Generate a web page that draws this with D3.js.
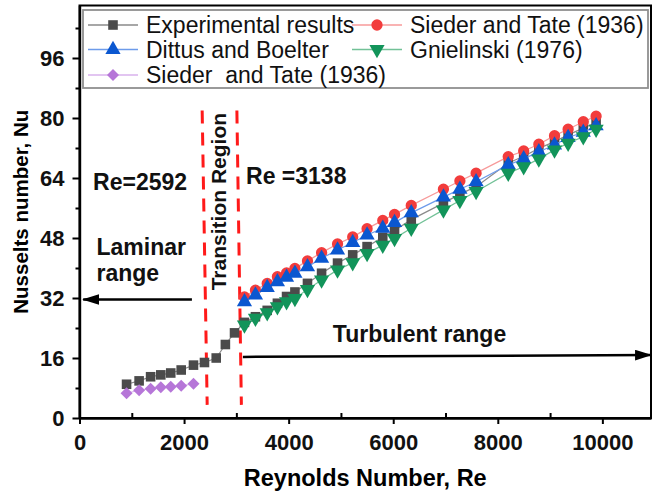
<!DOCTYPE html>
<html>
<head>
<meta charset="utf-8">
<script src="https://cdn.jsdelivr.net/npm/d3@7"></script>
<style>
  body { margin: 0; background: #fff; }
  svg { display: block; }
  text { font-family: "Liberation Sans", Arial, Helvetica, sans-serif; }
</style>
</head>
<body>
<svg id="chart" width="654" height="494"></svg>
<script>
// Reynolds numbers of the laminar / transition runs
const reLow = [900, 1140, 1360, 1555, 1745, 1945, 2180, 2390, 2615, 2790, 2965];
// Reynolds numbers of the turbulent runs
const reTurb = [3155, 3365, 3590, 3785, 3960, 4120, 4360, 4630, 4935, 5225, 5500, 5800,
                6025, 6345, 6960, 7275, 7585, 8200, 8495, 8785, 9085, 9345, 9635, 9880];

// Measured Nusselt numbers (laminar + transition, then turbulent)
const nuExpLow = [9.0, 9.9, 11.0, 11.5, 12.0, 12.8, 14.1, 14.8, 16.0, 19.6, 22.7];
const nuExpTurb = [25.5, 27.0, 28.7, 30.6, 32.4, 33.6, 35.9, 38.6, 41.3, 43.5, 45.7, 48.2,
                   50.0, 52.9, 57.3, 59.7, 61.7, 68.0, 69.8, 71.9, 73.7, 75.5, 77.3, 78.8];
// Correlations, turbulent range
const nuSiederTurb = [32.3, 34.1, 35.9, 37.7, 38.7, 39.9, 41.9, 44.1, 46.4, 48.3, 50.5, 52.7,
                      54.3, 56.7, 61.0, 63.2, 65.3, 69.7, 71.2, 73.0, 75.3, 77.0, 79.0, 80.5];
const nuDittus = [31.0, 32.8, 34.8, 36.3, 37.5, 38.6, 40.3, 42.6, 44.8, 46.8, 48.8, 50.6,
                  52.1, 54.7, 58.9, 61.0, 63.0, 67.5, 69.1, 71.0, 72.8, 74.8, 76.2, 77.9];
const nuGnielinski = [24.8, 26.6, 28.1, 29.7, 31.0, 31.9, 34.3, 36.8, 39.5, 41.4, 43.9, 46.1,
                      47.9, 50.6, 55.5, 58.0, 60.4, 65.3, 67.0, 69.1, 71.5, 73.3, 75.0, 77.0];
// Sieder and Tate, laminar range (first seven runs)
const nuSiederLam = [6.6, 7.4, 7.8, 8.2, 8.3, 8.6, 9.1];

// Axis ticks
const xMajor = [0, 2000, 4000, 6000, 8000, 10000];
const xMinor = [1000, 3000, 5000, 7000, 9000];
const yMajor = [0, 16, 32, 48, 64, 80, 96];
const yMinor = [8, 24, 40, 56, 72, 88, 104];

// Regime boundaries drawn as dashed lines: [Re top, Re bottom]
const boundaryLines = [[2346, 2442], [3010, 3096]];
const boundaryNu = [82, 3.5];

const svg = d3.select("#chart");
const x = d3.scaleLinear().domain([0, 10930]).range([79.5, 651]);
const y = d3.scaleLinear().domain([0, 110]).range([418, 5.5]);

const series = [
  { name: "Experimental results", re: reLow.concat(reTurb), nu: nuExpLow.concat(nuExpTurb),
    symbol: d3.symbolSquare, size: 92, rot: 0, fill: "#4b4b4b", line: "#8a8a8a" },
  { name: "Sieder and Tate (1936)", re: reTurb, nu: nuSiederTurb,
    symbol: d3.symbolCircle, size: 100, rot: 0, fill: "#f23c3c", line: "#f79a9a" },
  { name: "Dittus and Boelter", re: reTurb, nu: nuDittus,
    symbol: d3.symbolTriangle, size: 100, rot: 0, fill: "#0b57d0", line: "#6d9bea" },
  { name: "Gnielinski (1976)", re: reTurb, nu: nuGnielinski,
    symbol: d3.symbolTriangle, size: 100, rot: 180, fill: "#12945a", line: "#72c197" },
  { name: "Sieder  and Tate (1936)", re: reLow.slice(0, nuSiederLam.length), nu: nuSiederLam,
    symbol: d3.symbolSquare, size: 72, rot: 45, fill: "#b676d8", line: "#d8b2ec" }
];

// Frame
svg.append("rect")
  .attr("x", x(0)).attr("y", y(110))
  .attr("width", x(10930) - x(0)).attr("height", y(0) - y(110))
  .attr("fill", "none").attr("stroke", "#000").attr("stroke-width", 2);

// Regime boundaries
svg.selectAll("line.bound").data(boundaryLines).join("line")
  .attr("class", "bound")
  .attr("x1", d => x(d[0])).attr("y1", y(boundaryNu[0]))
  .attr("x2", d => x(d[1])).attr("y2", y(boundaryNu[1]))
  .attr("stroke", "#ff1a1a").attr("stroke-width", 3)
  .attr("stroke-dasharray", "13,9");

// Series lines and markers
const lineGen = d3.line().x(d => x(d[0])).y(d => y(d[1]));
series.forEach(s => {
  const pts = s.re.map((r, i) => [r, s.nu[i]]);
  svg.append("path").datum(pts)
    .attr("d", lineGen).attr("fill", "none")
    .attr("stroke", s.line).attr("stroke-width", 1.2);
  svg.append("g").selectAll("path").data(pts).join("path")
    .attr("d", d3.symbol().type(s.symbol).size(s.size))
    .attr("transform", d => `translate(${x(d[0])},${y(d[1])}) rotate(${s.rot})`)
    .attr("fill", s.fill);
});

// Axes
const fmt = d3.format("d");
const gx = svg.append("g").attr("transform", `translate(0,${y(0)})`)
  .call(d3.axisBottom(x).tickValues(xMajor).tickFormat(fmt).tickSize(6).tickSizeOuter(0).tickPadding(10));
svg.append("g").attr("transform", `translate(0,${y(0)})`)
  .call(d3.axisBottom(x).tickValues(xMinor).tickSize(-5).tickSizeOuter(0).tickFormat(""))
  .call(g => g.select(".domain").remove());
const gy = svg.append("g").attr("transform", `translate(${x(0)},0)`)
  .call(d3.axisLeft(y).tickValues(yMajor).tickFormat(fmt).tickSize(7).tickSizeOuter(0).tickPadding(8));
svg.append("g").attr("transform", `translate(${x(0)},0)`)
  .call(d3.axisLeft(y).tickValues(yMinor).tickSize(4).tickSizeOuter(0).tickFormat(""))
  .call(g => g.select(".domain").remove());
svg.selectAll(".domain").attr("stroke-width", 2.4);
svg.selectAll(".tick line").attr("stroke-width", 2);
[gx, gy].forEach(g => g.selectAll("text")
  .attr("font-size", 22).attr("font-weight", "bold").attr("fill", "#111")
  .style("font-family", '"Liberation Sans", Arial, sans-serif'));

// Axis titles
svg.append("text").attr("x", (x(0) + x(10930)) / 2).attr("y", 486)
  .attr("text-anchor", "middle").attr("font-size", 23.5).attr("font-weight", "bold")
  .text("Reynolds Number, Re");
svg.append("text").attr("transform", `translate(28,${(y(0) + y(110)) / 2}) rotate(-90)`)
  .attr("text-anchor", "middle").attr("font-size", 20.5).attr("font-weight", "bold")
  .text("Nusselts number, Nu");

// Annotations, placed in data units
const notes = [
  { t: "Re=2592", re: 260, nu: 60.8 },
  { t: "Re =3138", re: 3185, nu: 62.5 },
  { t: "Laminar", re: 325, nu: 43.5 },
  { t: "range", re: 325, nu: 36.5 },
  { t: "Turbulent range", re: 4845, nu: 20.3 }
];
svg.selectAll("text.note").data(notes).join("text")
  .attr("class", "note")
  .attr("x", d => x(d.re)).attr("y", d => y(d.nu))
  .attr("font-size", 23).attr("font-weight", "bold").attr("fill", "#111")
  .text(d => d.t);
svg.append("text")
  .attr("transform", `translate(${x(2800)},${y(57.7)}) rotate(-90)`)
  .attr("text-anchor", "middle").attr("font-size", 21).attr("font-weight", "bold")
  .attr("fill", "#111").text("Transition Region");

// Range arrows
svg.append("defs").append("marker")
  .attr("id", "head").attr("viewBox", "0 0 16 10").attr("refX", 15).attr("refY", 5)
  .attr("markerUnits", "userSpaceOnUse").attr("markerWidth", 17).attr("markerHeight", 11)
  .attr("orient", "auto")
  .append("path").attr("d", "M0,0 L16,5 L0,10 Z").attr("fill", "#000");
const arrows = [
  { from: [2150, 31.6], to: [70, 31.6] },
  { from: [3125, 16.3], to: [10930, 16.8] }
];
svg.selectAll("line.arrow").data(arrows).join("line")
  .attr("class", "arrow")
  .attr("x1", d => x(d.from[0])).attr("y1", d => y(d.from[1]))
  .attr("x2", d => x(d.to[0])).attr("y2", d => y(d.to[1]))
  .attr("stroke", "#000").attr("stroke-width", 2.5)
  .attr("marker-end", "url(#head)");

// Legend
const lg = svg.append("g");
lg.append("rect").attr("x", 83).attr("y", 10).attr("width", 565).attr("height", 78)
  .attr("fill", "#fff").attr("stroke", "#8f8f8f").attr("stroke-width", 1.8);
const slots = [[88, 25], [88, 49.5], [352, 25], [352, 49.5], [88, 75]];
const order = [0, 2, 1, 3, 4];
order.forEach((si, k) => {
  const s = series[si];
  const [lx, ly] = slots[k];
  lg.append("line").attr("x1", lx).attr("x2", lx + 50).attr("y1", ly).attr("y2", ly)
    .attr("stroke", s.line).attr("stroke-width", 1.4);
  lg.append("path")
    .attr("d", d3.symbol().type(s.symbol).size(s.size))
    .attr("transform", `translate(${lx + 25},${ly}) rotate(${s.rot})`)
    .attr("fill", s.fill);
  lg.append("text").attr("x", lx + 58).attr("y", ly).attr("dy", "0.36em")
    .attr("font-size", 23).attr("fill", "#111")
    .attr("xml:space", "preserve").style("white-space", "pre")
    .text(s.name);
});
</script>
</body>
</html>
